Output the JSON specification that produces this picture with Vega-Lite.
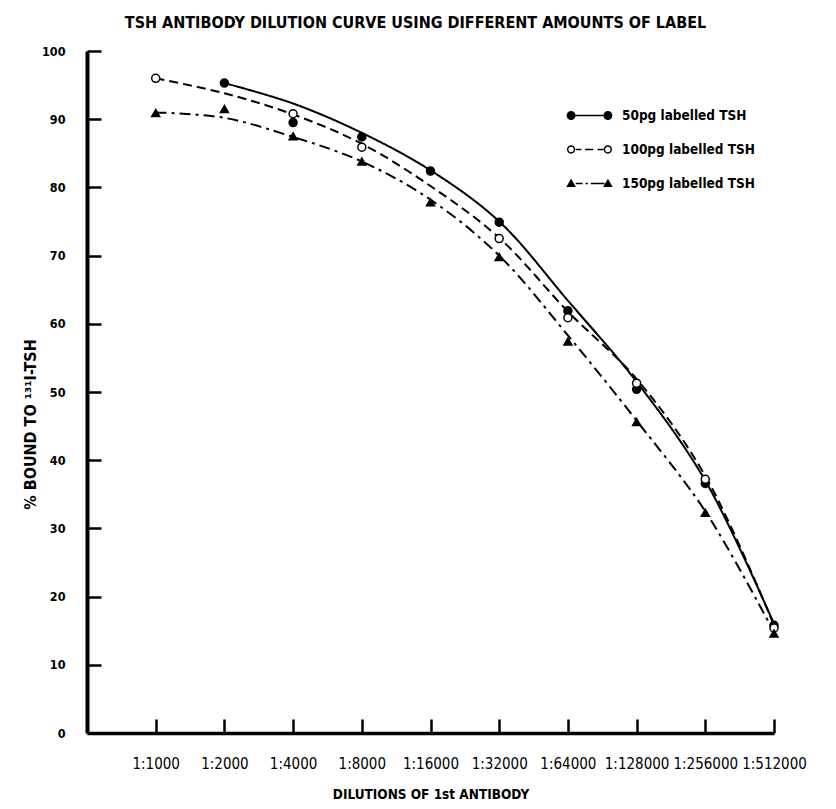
{
  "$schema": "https://vega.github.io/schema/vega-lite/v6.json",
  "autosize": "none",
  "width": 687,
  "height": 682,
  "padding": {"left": 87, "top": 51, "right": 62, "bottom": 76},
  "background": "white",
  "config": {
    "view": {"stroke": null},
    "axis": {
      "grid": false,
      "domainColor": "black",
      "tickColor": "black",
      "labelColor": "black",
      "titleColor": "black"
    }
  },
  "title": {
    "text": "TSH ANTIBODY DILUTION CURVE USING DIFFERENT AMOUNTS OF LABEL",
    "font": "DejaVu Sans Condensed, Liberation Sans",
    "fontSize": 16,
    "fontWeight": "bold",
    "color": "black",
    "anchor": "middle",
    "dx": -15,
    "offset": 14
  },
  "datasets": {
    "measured": [
      {"dilution": 2000, "sample": "50pg labelled TSH", "bound": 95.3},
      {"dilution": 4000, "sample": "50pg labelled TSH", "bound": 89.5},
      {"dilution": 8000, "sample": "50pg labelled TSH", "bound": 87.4},
      {"dilution": 16000, "sample": "50pg labelled TSH", "bound": 82.4},
      {"dilution": 32000, "sample": "50pg labelled TSH", "bound": 74.9},
      {"dilution": 64000, "sample": "50pg labelled TSH", "bound": 61.9},
      {"dilution": 128000, "sample": "50pg labelled TSH", "bound": 50.4},
      {"dilution": 256000, "sample": "50pg labelled TSH", "bound": 36.6},
      {"dilution": 512000, "sample": "50pg labelled TSH", "bound": 15.8},
      {"dilution": 1000, "sample": "100pg labelled TSH", "bound": 96.0},
      {"dilution": 4000, "sample": "100pg labelled TSH", "bound": 90.8},
      {"dilution": 8000, "sample": "100pg labelled TSH", "bound": 85.9},
      {"dilution": 32000, "sample": "100pg labelled TSH", "bound": 72.5},
      {"dilution": 64000, "sample": "100pg labelled TSH", "bound": 60.9},
      {"dilution": 128000, "sample": "100pg labelled TSH", "bound": 51.3},
      {"dilution": 256000, "sample": "100pg labelled TSH", "bound": 37.2},
      {"dilution": 512000, "sample": "100pg labelled TSH", "bound": 15.4},
      {"dilution": 1000, "sample": "150pg labelled TSH", "bound": 90.9},
      {"dilution": 2000, "sample": "150pg labelled TSH", "bound": 91.5},
      {"dilution": 4000, "sample": "150pg labelled TSH", "bound": 87.5},
      {"dilution": 8000, "sample": "150pg labelled TSH", "bound": 83.8},
      {"dilution": 16000, "sample": "150pg labelled TSH", "bound": 77.8},
      {"dilution": 32000, "sample": "150pg labelled TSH", "bound": 69.8},
      {"dilution": 64000, "sample": "150pg labelled TSH", "bound": 57.4},
      {"dilution": 128000, "sample": "150pg labelled TSH", "bound": 45.6},
      {"dilution": 256000, "sample": "150pg labelled TSH", "bound": 32.3},
      {"dilution": 512000, "sample": "150pg labelled TSH", "bound": 14.6}
    ],
    "fitted": [
      {"dilution": 2000, "series": "50pg labelled TSH", "bound": 95.3},
      {"dilution": 4000, "series": "50pg labelled TSH", "bound": 92.3},
      {"dilution": 8000, "series": "50pg labelled TSH", "bound": 88.0},
      {"dilution": 16000, "series": "50pg labelled TSH", "bound": 82.5},
      {"dilution": 32000, "series": "50pg labelled TSH", "bound": 75.0},
      {"dilution": 64000, "series": "50pg labelled TSH", "bound": 63.4},
      {"dilution": 128000, "series": "50pg labelled TSH", "bound": 51.5},
      {"dilution": 256000, "series": "50pg labelled TSH", "bound": 37.0},
      {"dilution": 512000, "series": "50pg labelled TSH", "bound": 16.0},
      {"dilution": 1000, "series": "100pg labelled TSH", "bound": 96.0},
      {"dilution": 2000, "series": "100pg labelled TSH", "bound": 93.8},
      {"dilution": 4000, "series": "100pg labelled TSH", "bound": 90.7},
      {"dilution": 8000, "series": "100pg labelled TSH", "bound": 86.4},
      {"dilution": 16000, "series": "100pg labelled TSH", "bound": 80.2},
      {"dilution": 32000, "series": "100pg labelled TSH", "bound": 72.6},
      {"dilution": 64000, "series": "100pg labelled TSH", "bound": 61.8},
      {"dilution": 128000, "series": "100pg labelled TSH", "bound": 51.9},
      {"dilution": 256000, "series": "100pg labelled TSH", "bound": 37.7},
      {"dilution": 512000, "series": "100pg labelled TSH", "bound": 15.8},
      {"dilution": 1000, "series": "150pg labelled TSH", "bound": 91.0},
      {"dilution": 2000, "series": "150pg labelled TSH", "bound": 90.2},
      {"dilution": 4000, "series": "150pg labelled TSH", "bound": 87.4},
      {"dilution": 8000, "series": "150pg labelled TSH", "bound": 83.8},
      {"dilution": 16000, "series": "150pg labelled TSH", "bound": 78.2},
      {"dilution": 32000, "series": "150pg labelled TSH", "bound": 70.0},
      {"dilution": 64000, "series": "150pg labelled TSH", "bound": 58.3},
      {"dilution": 128000, "series": "150pg labelled TSH", "bound": 45.8},
      {"dilution": 256000, "series": "150pg labelled TSH", "bound": 32.5},
      {"dilution": 512000, "series": "150pg labelled TSH", "bound": 14.8}
    ]
  },
  "encoding": {
    "x": {
      "field": "dilution",
      "type": "quantitative",
      "scale": {"type": "log", "base": 2, "domain": [500, 512000], "nice": false},
      "axis": {
        "title": "DILUTIONS OF 1st ANTIBODY",
        "titleFont": "DejaVu Sans Condensed, Liberation Sans",
        "titleFontSize": 13.5,
        "titleFontWeight": "bold",
        "titlePadding": 16,
        "values": [1000, 2000, 4000, 8000, 16000, 32000, 64000, 128000, 256000, 512000],
        "labelExpr": "'1:' + datum.value",
        "labelFont": "DejaVu Sans Condensed, Liberation Sans",
        "labelFontSize": 15,
        "labelFlush": false,
        "labelOverlap": false,
        "labelPadding": 37,
        "tickSize": -14,
        "tickWidth": 2.5,
        "domainWidth": 3.5
      }
    },
    "y": {
      "field": "bound",
      "type": "quantitative",
      "scale": {"domain": [0, 100], "nice": false},
      "axis": {
        "title": "% BOUND TO ¹³¹I-TSH",
        "titleFont": "DejaVu Sans Condensed, Liberation Sans",
        "titleFontSize": 16,
        "titleFontWeight": "bold",
        "titleX": -49,
        "titleY": 373,
        "values": [0, 10, 20, 30, 40, 50, 60, 70, 80, 90, 100],
        "labelFont": "DejaVu Sans Condensed, Liberation Sans",
        "labelFontSize": 12.5,
        "labelFontWeight": "bold",
        "labelPadding": 36,
        "tickSize": -14,
        "tickWidth": 2.5,
        "domainWidth": 4
      }
    }
  },
  "layer": [
    {
      "data": {"name": "fitted"},
      "mark": {"type": "line", "interpolate": "catmull-rom", "color": "black", "strokeWidth": 2},
      "encoding": {
        "detail": {"field": "series", "type": "nominal"},
        "strokeDash": {
          "condition": [
            {"test": "datum.series === '100pg labelled TSH'", "value": [9, 5]},
            {"test": "datum.series === '150pg labelled TSH'", "value": [11, 5, 3, 5]}
          ],
          "value": [1, 0]
        }
      }
    },
    {
      "data": {"name": "measured"},
      "mark": {"type": "point", "filled": true, "stroke": "black", "strokeWidth": 1.5, "opacity": 1},
      "encoding": {
        "shape": {
          "condition": {"test": "datum.sample === '150pg labelled TSH'", "value": "triangle-up"},
          "value": "circle"
        },
        "fill": {
          "condition": {"test": "datum.sample === '100pg labelled TSH'", "value": "white"},
          "value": "black"
        },
        "size": {"value": 64}
      }
    },
    {
      "data": {"name": "fitted"},
      "transform": [{"filter": "false"}],
      "mark": {"type": "point", "filled": true, "color": "black", "opacity": 1, "strokeWidth": 0},
      "encoding": {
        "shape": {
          "field": "series",
          "type": "nominal",
          "scale": {
            "domain": ["50pg labelled TSH", "100pg labelled TSH", "150pg labelled TSH"],
            "range": [
              "M-1.6,-0.07H1.6V0.07H-1.6ZM-1.99,0A0.39,0.39 0 1,1 -1.21,0A0.39,0.39 0 1,1 -1.99,0ZM1.21,0A0.39,0.39 0 1,1 1.99,0A0.39,0.39 0 1,1 1.21,0Z",
              "M-1.2,-0.07H-0.7V0.07H-1.2ZM-0.38,-0.07H0.32V0.07H-0.38ZM0.7,-0.07H1.24V0.07H0.7ZM-1.96,0A0.36,0.36 0 1,1 -1.24,0A0.36,0.36 0 1,1 -1.96,0ZM-1.84,0A0.24,0.24 0 1,0 -1.36,0A0.24,0.24 0 1,0 -1.84,0ZM1.24,0A0.36,0.36 0 1,1 1.96,0A0.36,0.36 0 1,1 1.24,0ZM1.36,0A0.24,0.24 0 1,0 1.84,0A0.24,0.24 0 1,0 1.36,0Z",
              "M-1.2,-0.07H-0.6V0.07H-1.2ZM-0.34,-0.07H-0.14V0.07H-0.34ZM0.12,-0.07H1.3V0.07H0.12ZM-2.02,0.3L-1.18,0.3L-1.6,-0.42ZM1.18,0.3L2.02,0.3L1.6,-0.42Z"
            ]
          },
          "legend": {
            "title": null,
            "orient": "none",
            "legendX": 491,
            "legendY": 53,
            "padding": 0,
            "labelFont": "DejaVu Sans Condensed, Liberation Sans",
            "labelFontSize": 13.5,
            "labelFontWeight": "bold",
            "labelColor": "black",
            "labelOffset": 21,
            "rowPadding": 16,
            "symbolSize": 529,
            "symbolStrokeWidth": 0,
            "symbolFillColor": "black",
            "symbolOpacity": 1,
            "labelExpr": "indexof(datum.label, '50pg') === 0 ? '\u2007\u2009' + datum.label : datum.label"
          }
        }
      }
    }
  ]
}
